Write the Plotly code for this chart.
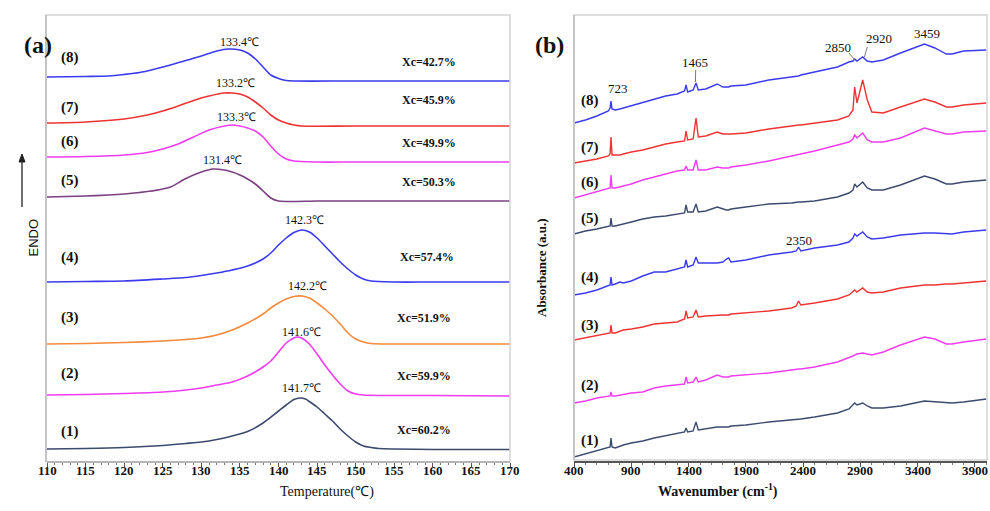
import plotly.graph_objects as go

# ---------------- Panel (a): DSC curves ----------------
dsc_colors = ["#3c4a6e", "#f03cf0", "#f58a3c", "#3b3bee", "#7a4080", "#f03cf0", "#ee3333", "#3b3bee"]
dsc_labels = ["(1)", "(2)", "(3)", "(4)", "(5)", "(6)", "(7)", "(8)"]
peak_labels = ["141.7℃", "141.6℃", "142.2℃", "142.3℃", "131.4℃", "133.3℃", "133.2℃", "133.4℃"]
xc_labels = ["Xc=60.2%", "Xc=59.9%", "Xc=51.9%", "Xc=57.4%", "Xc=50.3%", "Xc=49.9%", "Xc=45.9%", "Xc=42.7%"]
temp_ticks = [110, 115, 120, 125, 130, 135, 140, 145, 150, 155, 160, 165, 170]

T1 = [110, 115, 120, 125, 128, 130, 132, 134, 136, 138, 140, 141, 142, 142.8, 143.5, 144, 145, 146, 147, 148, 149, 150, 151, 152, 153, 155, 160, 165, 170]
H1 = [13, 13.5, 14.5, 16.5, 18.5, 20, 22.5, 26, 30.5, 39, 51, 57, 62.5, 64, 63, 60.5, 55, 48, 41, 33, 26, 20, 16, 14.5, 13.5, 13, 12.5, 12.5, 12.5]
T2 = [110, 115, 120, 125, 128, 130, 132, 134, 136, 138, 139, 140, 141, 142, 142.5, 143, 144, 145, 146, 147, 148, 149, 150, 151, 155, 160, 170]
H2 = [67, 67.5, 68.5, 70, 72, 74, 77, 80, 86, 95, 101, 110, 119, 124, 125, 124, 118, 108, 97, 87, 78, 71, 68, 67, 66.5, 66.5, 66]
T3 = [110, 115, 120, 125, 128, 130, 132, 134, 136, 138, 139, 140, 141, 142, 143, 144, 145, 146, 147, 148, 149, 150, 151, 152, 155, 160, 170]
H3 = [118, 118.5, 119.5, 121, 122.5, 124, 127, 132, 139, 148, 154, 159, 163, 165.5, 166, 164, 159, 153, 146, 138, 129, 123, 120, 118.5, 118, 118, 118]
T4 = [110, 115, 120, 125, 128, 130, 132, 134, 136, 138, 139, 140, 141, 142, 143, 144, 145, 146, 147, 148, 149, 150, 151, 152, 155, 160, 170]
H4 = [180, 180.5, 181, 183, 184.5, 186.5, 189, 192, 196, 203, 209, 217, 224, 229.5, 232, 230, 224, 216, 208, 200, 193, 187, 183, 181, 180, 180, 180]
T5 = [110, 115, 118, 120, 122, 124, 126, 128, 130, 131.5, 133, 134, 135, 136, 137, 138, 139, 140, 145, 150, 160, 170]
H5 = [265, 266, 267, 268, 269.5, 271.5, 275, 283.5, 290, 293, 292, 290, 287, 283, 278, 271, 264, 261, 261, 261, 261, 261]
T6 = [110, 115, 120, 123, 125, 127, 129, 131, 133, 134, 135, 136, 137, 138, 139, 140, 141, 142, 145, 150, 170]
H6 = [305, 305.5, 307, 309.5, 313, 318, 325, 332, 336, 337, 336, 334, 331, 325, 316, 308, 303, 301, 300, 300, 300]
T7 = [110, 115, 120, 123, 125, 127, 129, 131, 133, 134, 135, 136, 137, 138, 139, 140, 141, 142, 143, 150, 170]
H7 = [339, 340, 343, 347, 351, 356, 361.5, 366, 369, 369, 368, 365, 360, 354, 347, 342, 339, 337, 336, 336, 336]
T8 = [110, 115, 118, 120, 122, 124, 126, 128, 130, 132, 133.5, 135, 136, 137, 138, 139, 140, 141, 142, 150, 170]
H8 = [385, 385.5, 386, 387.5, 389.5, 393, 397, 401.5, 406, 411, 413, 412, 409, 403, 395, 387, 383.5, 381.5, 381, 381, 381]

dsc_T = [T1, T2, T3, T4, T5, T6, T7, T8]
dsc_H = [H1, H2, H3, H4, H5, H6, H7, H8]

# label positions (data coords of panel a)
dsc_label_y = [31, 89, 145, 205, 282, 321, 355, 405]
peak_label_pos = [(143.0, 74), (143.0, 130), (143.8, 176), (143.4, 242), (132.7, 302), (134.6, 345), (134.4, 379), (135.0, 420)]
xc_label_pos = [(158.9, 32), (158.9, 86), (158.9, 144), (159.3, 205), (159.5, 280), (159.5, 319), (159.5, 362), (159.5, 400)]

# ---------------- Panel (b): FTIR spectra ----------------
wn_ticks = [400, 900, 1400, 1900, 2400, 2900, 3400, 3900]
wn = [400, 500, 600, 700, 715, 723, 732, 760, 800, 830, 900, 1000, 1100, 1200, 1300, 1365, 1378, 1392, 1440, 1465,
      1485, 1550, 1650, 1700, 1730, 1750, 1770, 1900, 2100, 2300, 2340, 2360, 2380, 2500, 2700, 2800, 2835, 2850,
      2870, 2920, 2960, 3000, 3100, 3250, 3459, 3550, 3650, 3700, 3800, 4000]

A1 = [3, 6, 9, 12, 13, 22, 13, 12, 14, 15, 17, 19, 22, 24, 26, 28, 32, 28, 29, 38,
      30, 31, 33, 33, 33, 33, 34, 35, 38, 40, 41, 41, 41, 43, 47, 51, 55, 57,
      55, 57, 54, 52, 52, 54, 59, 58, 57, 57, 58, 61]
A2 = [57, 59, 62, 64, 64, 68, 64, 64, 65, 66, 67, 68, 72, 74, 75, 76, 83, 77, 78, 83,
      78, 80, 85, 83, 83, 83, 84, 85, 87, 90, 91, 91, 91, 93, 98, 102, 104, 105,
      106, 107, 106, 105, 108, 115, 123, 121, 116, 116, 118, 121]
A3 = [120, 122, 124, 126, 127, 135, 127, 127, 129, 130, 131, 133, 136, 137, 138, 141, 149, 142, 143, 150,
      143, 144, 145, 145, 145, 145, 146, 147, 149, 152, 154, 159, 155, 157, 161, 165, 169, 170,
      168, 172, 168, 167, 168, 172, 175, 175, 176, 176, 177, 179]
A4 = [165, 167, 170, 174, 175, 183, 175, 176, 178, 177, 179, 184, 188, 188, 191, 193, 200, 193, 195, 203,
      197, 197, 197, 198, 201, 202, 198, 200, 205, 208, 209, 213, 209, 212, 215, 218, 222, 226,
      224, 228, 223, 221, 222, 225, 227, 227, 226, 226, 228, 230]
A5 = [226, 229, 231, 233, 234, 242, 234, 234, 235, 236, 238, 241, 243, 244, 246, 247, 255, 248, 248, 256,
      248, 249, 253, 251, 250, 250, 251, 253, 256, 257, 258, 258, 258, 259, 263, 267, 270, 276,
      273, 278, 272, 270, 270, 275, 284, 281, 276, 276, 278, 280]
A6 = [262, 265, 268, 271, 272, 285, 272, 272, 273, 274, 276, 280, 283, 286, 289, 290, 294, 290, 290, 300,
      290, 290, 293, 292, 292, 292, 293, 295, 299, 304, 305, 305, 306, 309, 315, 318, 321, 325,
      322, 327, 320, 318, 318, 322, 332, 329, 326, 326, 328, 329]
A7 = [297, 299, 301, 304, 306, 323, 305, 305, 305, 306, 308, 310, 313, 316, 318, 319, 329, 320, 321, 342,
      323, 324, 328, 326, 326, 326, 326, 327, 331, 334, 335, 335, 335, 337, 340, 344, 350, 373,
      357, 380, 360, 348, 347, 353, 361, 358, 353, 353, 355, 357]
A8 = [337, 340, 344, 349, 352, 359, 351, 350, 351, 352, 354, 358, 361, 364, 366, 369, 375, 368, 370, 377,
      370, 371, 376, 373, 373, 373, 374, 375, 380, 383, 384, 384, 385, 388, 393, 398, 399, 401,
      399, 403, 399, 398, 400, 407, 416, 412, 406, 406, 409, 410]

ftir_A = [A1, A2, A3, A4, A5, A6, A7, A8]
ftir_colors = ["#3c4a6e", "#f03cf0", "#ee3333", "#3b3bee", "#3c4a6e", "#f03cf0", "#ee3333", "#3b3bee"]
ftir_label_y = [20, 75, 135, 183, 242, 278, 313, 360]
band_labels = [("723", 784, 372), ("1465", 1456, 398), ("2850", 2704, 413), ("2920", 3062, 422), ("3459", 3480, 427), ("2350", 2364, 220)]

fig = go.Figure()

for T, H, c in zip(dsc_T, dsc_H, dsc_colors):
    fig.add_trace(go.Scatter(x=T, y=H, mode="lines", line=dict(color=c, width=1.6, shape="spline", smoothing=0.8),
                             xaxis="x", yaxis="y", showlegend=False, hoverinfo="skip"))

for A, c in zip(ftir_A, ftir_colors):
    fig.add_trace(go.Scatter(x=wn, y=A, mode="lines", line=dict(color=c, width=1.4),
                             xaxis="x2", yaxis="y2", showlegend=False, hoverinfo="skip"))

serif = "Liberation Serif"
ann = []
for lab, y in zip(dsc_labels, dsc_label_y):
    ann.append(dict(x=113.0, y=y, xref="x", yref="y", text="<b>%s</b>" % lab, showarrow=False,
                    font=dict(family=serif, size=15, color="#111")))
for lab, (x, y) in zip(peak_labels, peak_label_pos):
    ann.append(dict(x=x, y=y, xref="x", yref="y", text=lab, showarrow=False,
                    font=dict(family=serif, size=12, color="#111")))
for lab, (x, y) in zip(xc_labels, xc_label_pos):
    ann.append(dict(x=x, y=y, xref="x", yref="y", text="<b>%s</b>" % lab, showarrow=False,
                    font=dict(family=serif, size=12, color="#111")))
for lab, y in zip(dsc_labels, ftir_label_y):
    ann.append(dict(x=540, y=y, xref="x2", yref="y2", text="<b>%s</b>" % lab, showarrow=False,
                    font=dict(family=serif, size=15, color="#111")))
for lab, x, y in band_labels:
    ann.append(dict(x=x, y=y, xref="x2", yref="y2", text=lab, showarrow=False,
                    font=dict(family=serif, size=13, color="#111")))

def px(xp, yp):
    return xp / 990.0, 1 - yp / 511.0

# tick labels placed at the axis values
_, tick_y = px(0, 480)
for v in wn_ticks:
    ann.append(dict(x=v, y=tick_y, xref="x2", yref="paper", text="<b>%d</b>" % v, showarrow=False,
                    font=dict(family=serif, size=13, color="#111")))
for v in temp_ticks:
    ann.append(dict(x=v, y=tick_y, xref="x", yref="paper", text="<b>%d</b>" % v, showarrow=False,
                    font=dict(family=serif, size=13, color="#111")))

# panel letters and titles
for txt, (xp, yp), sz in [("<b>(a)</b>", (22, 30), 24), ("<b>(b)</b>", (549, 30), 24)]:
    xx, yy = px(xp, yp)
    ann.append(dict(x=xx, y=yy, xref="paper", yref="paper", text=txt, showarrow=False,
                    font=dict(family=serif, size=sz, color="#111")))
xx, yy = px(278, 502)
ann.append(dict(x=xx, y=yy, xref="paper", yref="paper", text="Temperature(℃)", showarrow=False,
                font=dict(family=serif, size=14, color="#111")))
xx, yy = px(780, 502)
ann.append(dict(x=xx, y=yy, xref="paper", yref="paper", text="<b>Wavenumber (cm<sup>-1</sup>)</b>", showarrow=False,
                font=dict(family=serif, size=14, color="#111")))
xx, yy = px(541, 268)
ann.append(dict(x=xx, y=yy, xref="paper", yref="paper", text="<b>Absorbance (a.u.)</b>", showarrow=False,
                textangle=-90, font=dict(family=serif, size=13, color="#111")))
xx, yy = px(23, 238)
ann.append(dict(x=xx, y=yy, xref="paper", yref="paper", text="ENDO", showarrow=False,
                textangle=-90, font=dict(family="Liberation Sans", size=13, color="#111")))

shapes = []
# ENDO arrow (line + head)
a0, b0 = px(22, 207)
a1, b1 = px(22, 160)
shapes.append(dict(type="line", xref="paper", yref="paper", x0=a0, x1=a1, y0=b0, y1=b1,
                   line=dict(color="#222", width=1.3)))
h1x, h1y = px(19, 162)
h2x, h2y = px(25, 162)
tx, ty = px(22, 154)
shapes.append(dict(type="path", xref="paper", yref="paper",
                   path="M %f %f L %f %f L %f %f Z" % (h1x, h1y, tx, ty, h2x, h2y),
                   fillcolor="#222", line=dict(color="#222", width=1)))
# frames
for (x0, x1, y0, y1) in [(46, 510, 15, 462), (574, 987, 15, 460)]:
    a0, b0 = px(x0, y1)
    a1, b1 = px(x1, y0)
    shapes.append(dict(type="rect", xref="paper", yref="paper", x0=a0, x1=a1, y0=b0, y1=b1,
                       line=dict(color="#d4d4d4", width=1.5)))
    shapes.append(dict(type="line", xref="paper", yref="paper", x0=a0, x1=a0, y0=b0, y1=b1,
                       line=dict(color="#c4c4c4", width=2)))
# leader lines for band labels
for (xa, ya, xb, yb) in [(1462, 390, 1460, 378), (2800, 407, 2860, 399), (2960, 413, 2935, 403)]:
    shapes.append(dict(type="line", xref="x2", yref="y2", x0=xa, y0=ya, x1=xb, y1=yb,
                       line=dict(color="#777", width=1)))

dom_y = [1 - 461 / 511.0, 1 - 15 / 511.0]
fig.update_layout(
    width=990, height=511, margin=dict(l=0, r=0, t=0, b=0),
    paper_bgcolor="white", plot_bgcolor="white",
    xaxis=dict(domain=[47 / 990.0, 510 / 990.0], range=[110, 170], tickmode="array", tickvals=temp_ticks,
               showticklabels=False,
               showgrid=False, zeroline=False, showline=True, linecolor="#555", linewidth=1.5,
               ticks="outside", ticklen=4, tickcolor="#555",
               minor=dict(dtick=1, tick0=110, ticks="outside", ticklen=2, tickcolor="#777"), anchor="y"),
    yaxis=dict(domain=dom_y, range=[1, 447], visible=False, anchor="x"),
    xaxis2=dict(domain=[574 / 990.0, 987 / 990.0], range=[400, 4005], tickmode="array", tickvals=wn_ticks,
                showticklabels=False,
                showgrid=False, zeroline=False, showline=True, linecolor="#555", linewidth=1.5,
                ticks="outside", ticklen=4, tickcolor="#555",
                minor=dict(dtick=100, tick0=400, ticks="outside", ticklen=2, tickcolor="#777"), anchor="y2"),
    yaxis2=dict(domain=dom_y, range=[-1, 445], visible=False, anchor="x2"),
    annotations=ann, shapes=shapes,
)
for tr in fig.data[8:]:
    tr.yaxis = "y2"

fig.write_html("out.html")
